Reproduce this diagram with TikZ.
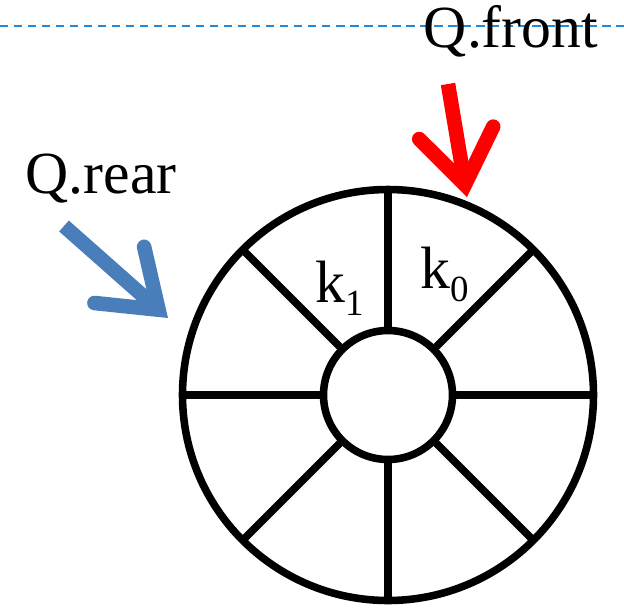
\documentclass[tikz,border=0pt]{standalone}
\usepackage{fontspec}
\setmainfont{Liberation Serif}
\usetikzlibrary{arrows.meta}
\definecolor{qblue}{RGB}{74,126,187}
\definecolor{guide}{RGB}{31,138,221}

\begin{document}
\begin{tikzpicture}[
        ring/.style={circle, draw, line width=4.3pt, inner sep=0pt, outer sep=0pt},
        spoke/.style={line width=4.3pt},
        ptr/.style={line width=8.3pt, -{Straight Barb[length=1.05cm, width=1.5cm, line cap=round, line join=miter]}},
        lbl/.style={font=\fontsize{34}{40}\selectfont, inner sep=0pt}]
    \useasboundingbox (-7.76,-4.24) rectangle (4.72,7.9);

    % dashed guide line
    \draw[guide, line width=1.5pt, dash pattern=on 0.17cm off 0.11cm] (-7.76,7.38) -- (4.72,7.38);

    % the ring buffer
    \node[ring, minimum size=8.22cm] (outer) at (0,0) {};
    \node[ring, minimum size=2.58cm] (inner) at (0,0) {};
    \foreach \a in {0,45,...,315}
        \draw[spoke] (inner.\a) -- (outer.\a);

    % keys
    \node[lbl, anchor=base west] (k1) at (-1.46,1.86) {k\raisebox{-0.27cm}{\fontsize{21}{24}\selectfont 1}};
    \node[lbl, anchor=base west] (k0) at (0.64,2.14) {k\raisebox{-0.27cm}{\fontsize{21}{24}\selectfont 0}};

    % pointers
    \node[lbl, anchor=base] (front) at (2.46,6.96) {Q.front};
    \node[lbl, anchor=base] (rear) at (-5.74,4.04) {Q.rear};
    \coordinate (frontS) at (1.20,6.22);
    \coordinate (frontT) at (1.58,3.96);
    \coordinate (rearS) at (-6.48,3.38);
    \coordinate (rearT) at (-4.40,1.54);
    \draw[ptr, red] (frontS) -- (frontT);
    \draw[ptr, qblue] (rearS) -- (rearT);
\end{tikzpicture}
\end{document}
